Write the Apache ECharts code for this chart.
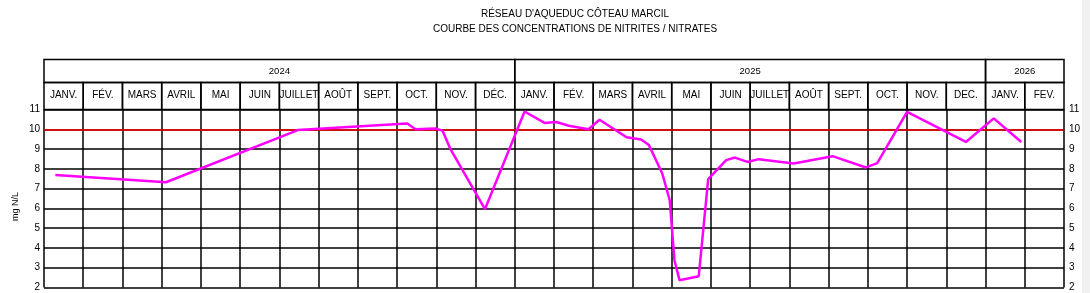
<!DOCTYPE html>
<html>
<head>
<meta charset="utf-8">
<script src="https://cdn.jsdelivr.net/npm/echarts@6/dist/echarts.min.js"></script>
<style>
html,body{margin:0;padding:0;background:#fff;}
#chart{width:1090px;height:293px;}
</style>
</head>
<body>
<div id="chart"></div>
<script>
// ---- data ----
const titleLines = ["RÉSEAU D'AQUEDUC CÔTEAU MARCIL", "COURBE DES CONCENTRATIONS DE NITRITES / NITRATES"];
const years = ['2024', '2025', '2026'];
const yearSpans = [12, 12, 2];
const months = ['JANV.','FÉV.','MARS','AVRIL','MAI','JUIN','JUILLET','AOÛT','SEPT.','OCT.','NOV.','DÉC.',
                'JANV.','FÉV.','MARS','AVRIL','MAI','JUIN','JUILLET','AOÛT','SEPT.','OCT.','NOV.','DEC.',
                'JANV.','FEV.'];
const yMin = 2, yMax = 11, yStep = 1;
const yName = 'mg N/L';
const limitValue = 10;
// position of each sample, in months from JANV. 2024
const samplePos = [0.29, 3.11, 6.47, 9.26, 9.47, 9.97, 10.16, 10.35, 11.24, 12.25, 12.76, 13.06, 13.38, 13.88,
                   14.16, 14.85, 15.22, 15.42, 15.76, 15.95, 16.07, 16.20, 16.69, 16.93, 17.39, 17.61, 17.93,
                   18.22, 19.11, 20.10, 20.95, 21.24, 22.0, 23.5, 24.21, 24.91];
const sampleValues = [7.69, 7.32, 9.96, 10.29, 10.0, 10.04, 9.93, 9.04, 5.96, 10.9, 10.32, 10.37, 10.18, 10.0,
                      10.48, 9.6, 9.48, 9.2, 7.76, 6.41, 3.38, 2.37, 2.57, 7.48, 8.44, 8.57, 8.35,
                      8.49, 8.27, 8.64, 8.07, 8.29, 10.88, 9.36, 10.55, 9.36];

// ---- derived ----
const nMonths = months.length;
const lineData = samplePos.map((p, i) => [p, sampleValues[i]]);
const monthCells = months.map((m, i) => [i, i + 1]);
const yearCells = [];
{ let s = 0; yearSpans.forEach(n => { yearCells.push([s, s + n]); s += n; }); }

const FONT = '"Liberation Sans", Arial, sans-serif';
const L = 44, R = 26;

function cellRenderer(labels, fontSize, dy) {
  return function (params, api) {
    const a = api.coord([api.value(0), 1]);
    const b = api.coord([api.value(1), 0]);
    return {
      type: 'group',
      children: [
        { type: 'rect', shape: { x: a[0], y: a[1], width: b[0] - a[0], height: b[1] - a[1] },
          style: { fill: 'none', stroke: '#000', lineWidth: 1.5 } },
        { type: 'text', style: { text: labels[params.dataIndex], x: (a[0] + b[0]) / 2, y: (a[1] + b[1]) / 2 + dy,
          align: 'center', verticalAlign: 'middle', fill: '#000', font: fontSize + 'px ' + FONT } }
      ]
    };
  };
}

const chart = echarts.init(document.getElementById('chart'), null, { renderer: 'canvas' });
const hiddenX = (gi) => ({ type: 'value', gridIndex: gi, min: 0, max: nMonths, show: false });
const hiddenY = (gi) => ({ type: 'value', gridIndex: gi, min: 0, max: 1, show: false });

chart.setOption({
  animation: false,
  backgroundColor: '#fff',
  title: [
    { text: titleLines[0], left: 570, top: 4, textAlign: 'center',
      textStyle: { fontSize: 10, fontWeight: 'normal', color: '#000', fontFamily: FONT } },
    { text: titleLines[1], left: 570, top: 19, textAlign: 'center',
      textStyle: { fontSize: 10, fontWeight: 'normal', color: '#000', fontFamily: FONT } }
  ],
  graphic: [
    { type: 'rect', right: 0, top: 0, shape: { width: 8, height: 293 }, style: { fill: '#f1f1f1' }, z: -1 }
  ],
  grid: [
    { left: L, right: R, top: 109.5, bottom: 5.5 },
    { left: L, right: R, top: 59.5, height: 23 },
    { left: L, right: R, top: 82.5, height: 27 }
  ],
  xAxis: [
    { type: 'value', gridIndex: 0, min: 0, max: nMonths, interval: 1,
      axisLabel: { show: false }, axisTick: { show: false }, axisLine: { show: false },
      splitLine: { show: true, lineStyle: { color: '#000', width: 1.5 } } },
    hiddenX(1), hiddenX(2)
  ],
  yAxis: [
    { type: 'value', gridIndex: 0, min: yMin, max: yMax, interval: yStep, position: 'left',
      name: yName, nameLocation: 'middle', nameGap: 24, nameRotate: 90, nameMoveOverlap: false,
      nameTextStyle: { fontSize: 9, color: '#000', fontFamily: FONT, padding: [0, 16, 0, 0] },
      axisLabel: { margin: 4, fontSize: 10, color: '#000', fontFamily: FONT },
      axisTick: { show: false }, axisLine: { show: false },
      splitLine: { show: true, lineStyle: { color: '#000', width: 1.5 } } },
    { type: 'value', gridIndex: 0, min: yMin, max: yMax, interval: yStep, position: 'right',
      axisLabel: { margin: 5, fontSize: 10, color: '#000', fontFamily: FONT },
      axisTick: { show: false }, axisLine: { show: false }, splitLine: { show: false } },
    hiddenY(1), hiddenY(2)
  ],
  series: [
    { type: 'line', xAxisIndex: 0, yAxisIndex: 0, data: lineData, symbol: 'none', smooth: false,
      lineStyle: { color: '#ff00ff', width: 2.5 }, z: 5,
      markLine: { silent: true, symbol: 'none', label: { show: false },
        lineStyle: { color: '#ff0000', width: 1.5, type: 'solid' },
        data: [{ yAxis: limitValue }] } },
    { type: 'custom', xAxisIndex: 1, yAxisIndex: 2, data: yearCells, renderItem: cellRenderer(years, 9.5, 0) },
    { type: 'custom', xAxisIndex: 2, yAxisIndex: 3, data: monthCells, renderItem: cellRenderer(months, 10, -1) }
  ]
});
</script>
</body>
</html>
